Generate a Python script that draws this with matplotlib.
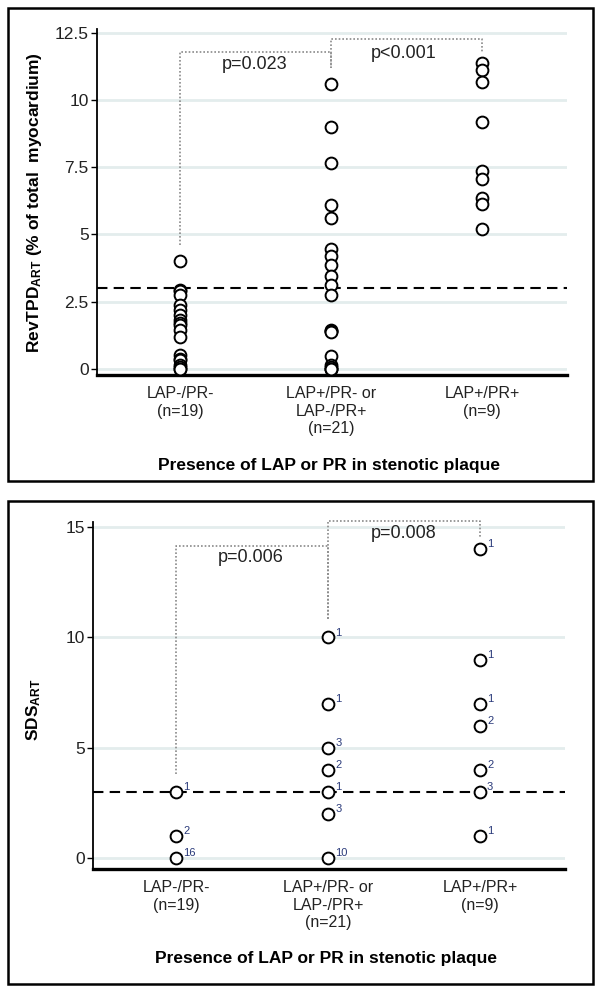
import matplotlib
matplotlib.use('Agg')
import matplotlib.pyplot as plt
from matplotlib.patches import Rectangle

plt.rcParams['font.family'] = ['Liberation Sans', 'DejaVu Sans']
plt.rcParams['mathtext.fontset'] = 'custom'
plt.rcParams['mathtext.bf'] = 'Liberation Sans:bold'
plt.rcParams['mathtext.rm'] = 'Liberation Sans'
plt.rcParams['mathtext.default'] = 'bf'

groups = ['LAP-/PR-\n(n=19)', 'LAP+/PR- or\nLAP-/PR+\n(n=21)', 'LAP+/PR+\n(n=9)']

# RevTPD ART values (% of total myocardium)
revtpd_g1 = [4.0, 2.93, 2.9, 2.74, 2.37, 2.18, 2.0, 1.81, 1.7, 1.62, 1.44, 1.19,
             0.5, 0.35, 0.32, 0.13, 0.06, 0.0, 0.0]
revtpd_g2 = [10.6, 9.0, 7.65, 6.1, 5.6, 4.45, 4.2, 3.85, 3.45, 3.1, 2.75,
             1.45, 1.4, 1.4, 1.35, 0.45, 0.15, 0.05, 0.0, 0.0, 0.0]
revtpd_g3 = [11.4, 11.15, 10.7, 9.2, 7.35, 7.05, 6.35, 6.12, 5.22]
revtpd = [revtpd_g1, revtpd_g2, revtpd_g3]

# SDS ART values with the number of patients at each value
sds_g1 = [0, 1, 3]
sds_g1_n = [16, 2, 1]
sds_g2 = [0, 2, 3, 4, 5, 7, 10]
sds_g2_n = [10, 3, 1, 2, 3, 1, 1]
sds_g3 = [1, 3, 4, 6, 7, 9, 14]
sds_g3_n = [1, 3, 2, 2, 1, 1, 1]
sds = [sds_g1, sds_g2, sds_g3]
sds_n = [sds_g1_n, sds_g2_n, sds_g3_n]

threshold = 3
top_p = ['p=0.023', 'p<0.001']
bot_p = ['p=0.006', 'p=0.008']

W, H = 601, 992
fig = plt.figure(figsize=(W / 100, H / 100), dpi=100)

# panel frames
for (x0, y0, x1, y1) in [(8, 8, 593, 481), (8, 501, 593, 984)]:
    fig.patches.append(Rectangle((x0 / W, 1 - y1 / H), (x1 - x0) / W, (y1 - y0) / H,
                                 transform=fig.transFigure, fill=False,
                                 edgecolor='black', linewidth=1.8))

ax1 = fig.add_axes([97 / W, 1 - 375 / H, 470 / W, 345.7 / H])
ax2 = fig.add_axes([93 / W, 1 - 869 / H, 472 / W, 347.3 / H])

grid_col = '#e3eded'
dot_col = '#8a8a8a'


def style(ax, ticks, ylim):
    ax.set_xlim(0.45, 3.56)
    ax.set_ylim(*ylim)
    ax.set_yticks(ticks)
    ax.set_yticklabels([('%g' % t) for t in ticks], fontsize=12.5, color='#222222')
    ax.set_xticks([1, 2, 3])
    ax.set_xticklabels(groups, fontsize=11.5, color='#222222')
    ax.tick_params(axis='x', length=0, pad=8)
    ax.tick_params(axis='y', length=4, width=1, pad=2)
    for t in ticks:
        ax.axhline(t, color=grid_col, lw=2, zorder=0)
    ax.spines['top'].set_visible(False)
    ax.spines['right'].set_visible(False)
    ax.spines['left'].set_linewidth(1.3)
    ax.spines['bottom'].set_linewidth(2.4)
    ax.axhline(threshold, color='black', lw=1.5, ls=(0, (5, 3)), zorder=2)
    ax.set_xlabel('Presence of LAP or PR in stenotic plaque', fontsize=12.5,
                  fontweight='bold')


def brackets(ax, h1, drop1, drop2, h2, drop3, texts, tpos):
    kw = dict(color=dot_col, lw=1.2, ls=(0, (1, 1.2)), clip_on=False, zorder=1)
    ax.plot([1, 1, 2, 2], [drop1, h1, h1, drop2], **kw)
    ax.plot([2, 2, 3, 3], [drop2, h2, h2, drop3], **kw)
    for txt, (x, y) in zip(texts, tpos):
        ax.text(x, y, txt, ha='center', va='center', fontsize=13, color='#222222')


# top panel
style(ax1, [0, 2.5, 5, 7.5, 10, 12.5], (-0.24, 12.65))
for i, vals in enumerate(revtpd):
    ax1.plot([i + 1] * len(vals), vals, 'o', ms=8.5, mfc='white', mec='black',
             mew=1.4, zorder=3)
brackets(ax1, 11.82, 4.6, 11.2, 12.28, 11.82, top_p, [(1.49, 11.32), (2.48, 11.76)])
ax1.set_ylabel('RevTPD$_{ART}$ (% of total  myocardium)', fontsize=12.5,
               fontweight='bold')
ax1.yaxis.set_label_coords(-0.113, 0.5)
ax1.xaxis.set_label_coords(0.494, -0.24)

# bottom panel
style(ax2, [0, 5, 10, 15], (-0.5, 15.25))
for i, (vals, counts) in enumerate(zip(sds, sds_n)):
    ax2.plot([i + 1] * len(vals), vals, 'o', ms=8.5, mfc='white', mec='black',
             mew=1.4, zorder=3)
    for v, c in zip(vals, counts):
        ax2.annotate(str(c), (i + 1, v), xytext=(5, 3.5), textcoords='offset points',
                     fontsize=8, color='#2a3a7a', ha='left', va='center', zorder=4)
brackets(ax2, 14.17, 3.8, 10.84, 15.28, 14.55, bot_p, [(1.49, 13.62), (2.5, 14.7)])
ax2.set_ylabel('SDS$_{ART}$', fontsize=12.5, fontweight='bold')
ax2.yaxis.set_label_coords(-0.106, 0.458)
ax2.xaxis.set_label_coords(0.494, -0.236)

fig.savefig('out.png', dpi=100)
